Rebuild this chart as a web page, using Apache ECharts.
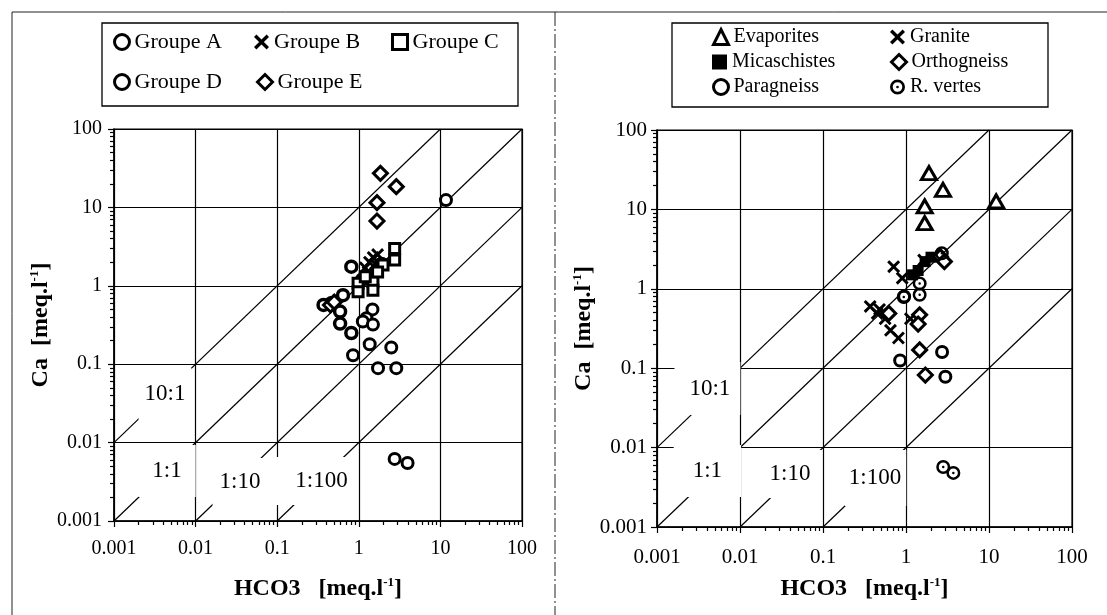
<!DOCTYPE html>
<html><head><meta charset="utf-8">
<script src="https://cdn.jsdelivr.net/npm/echarts@6/dist/echarts.min.js"></script>
<style>html,body{margin:0;padding:0;background:#fff}#c{width:1107px;height:615px}</style>
</head><body><div id="c"></div>
<script>
// ---------- data (HCO3, Ca) in meq/l ----------
const groupA = [[0.46,0.60],[0.37,0.57],[0.59,0.47],[0.59,0.33],[0.81,0.25],[0.64,0.76],[0.81,1.75],[1.9,1.9],[1.1,1.2]];
const groupB = [[1.2,1.7],[1.35,2.0],[1.5,2.3],[1.7,2.5],[1.3,1.5],[1.6,1.9]];
const groupC = [[2.75,3.0],[2.75,2.13],[1.98,1.84],[1.49,1.13],[0.98,1.08],[0.98,0.84],[1.49,0.88],[1.2,1.3],[1.7,1.5]];
const groupD = [[11.7,12.4],[0.85,0.13],[1.36,0.18],[1.47,0.50],[1.24,0.385],[1.12,0.35],[1.49,0.32],[2.5,0.163],[1.72,0.089],[2.88,0.089],[2.75,0.0062],[3.96,0.0055]];
const groupE = [[1.84,27.2],[2.88,18.4],[1.67,11.5],[1.67,6.7],[0.45,0.57],[0.5,0.62]];

const evaporites = [[1.89,28.6],[2.79,17.6],[1.68,10.9],[1.68,6.7],[12.2,12.6]];
const granite = [[0.71,1.9],[0.9,1.36],[0.37,0.6],[0.45,0.49],[0.56,0.42],[0.65,0.30],[0.81,0.24],[1.13,0.42],[1.63,2.3],[0.48,0.55]];
const micaschistes = [[1.4,1.7],[1.7,2.2],[2.0,2.5],[1.2,1.5]];
const orthogneiss = [[2.59,2.54],[2.9,2.2],[0.62,0.49],[1.46,0.47],[1.4,0.36],[1.46,0.17],[1.71,0.082]];
const paragneiss = [[0.85,0.125],[2.72,0.16],[2.98,0.078],[0.95,0.8]];
const rVertes = [[1.46,1.17],[1.46,0.84],[0.94,0.79],[2.81,0.0057],[3.72,0.0048],[2.7,2.8]];

// ratio lines Ca/HCO3 and their labels
const ratios = [10, 1, 0.1, 0.01];
const ratioLabels = ['10:1', '1:1', '1:10', '1:100'];
const leftRatioLabelAt = [[0.00422,0.0417],[0.00446,0.00434],[0.035,0.00314],[0.2594,0.00324]];
const rightRatioLabelAt = [[0.00405,0.0554],[0.00405,0.00507],[0.0454,0.00465],[0.4297,0.00414]];

// axis ticks
const decadeTicks = [0.001, 0.01, 0.1, 1, 10, 100];
const minorMultipliers = [2,3,4,5,6,7,8,9];

// ---------- build ----------
const AXMIN = decadeTicks[0], AXMAX = decadeTicks[decadeTicks.length-1];
const minorTicks = [];
decadeTicks.slice(0,-1).forEach(d => minorMultipliers.forEach(m => minorTicks.push(+(d*m).toPrecision(3))));

const SERIF = '"Liberation Serif","DejaVu Serif",serif';
const X_PATH = 'path://M0,1.6L1.6,0L5,3.4L8.4,0L10,1.6L6.6,5L10,8.4L8.4,10L5,6.6L1.6,10L0,8.4L3.4,5Z';
const DOT_RING = 'path://M10,0A10,10,0,1,1,10,20A10,10,0,1,1,10,0ZM10,3.6A6.4,6.4,0,1,0,10,16.4A6.4,6.4,0,1,0,10,3.6ZM10,8.2A1.8,1.8,0,1,1,10,11.8A1.8,1.8,0,1,1,10,8.2Z';

const fmt = v => String(+(+v).toPrecision(3));
const nameRich = {
  b:{fontFamily:SERIF, fontWeight:'bold', fontSize:24, color:'#000', lineHeight:26},
  s:{fontFamily:SERIF, fontWeight:'bold', fontSize:13, color:'#000', verticalAlign:'top', lineHeight:26}
};

function mainAxis(grid, labelMargin, nameGap, fontSize, name){
  return {
    type:'log', logBase:10, gridIndex:grid, min:AXMIN, max:AXMAX,
    axisLine:{show:true, lineStyle:{color:'#000', width:1.5}},
    axisTick:{show:true, inside:false, length:6, lineStyle:{color:'#000', width:1.2}},
    axisLabel:{margin:labelMargin, formatter:fmt, fontFamily:SERIF, fontSize:fontSize, color:'#000'},
    splitLine:{show:true, lineStyle:{color:'#000', width:1.2}},
    name:name, nameLocation:'middle', nameGap:nameGap,
    nameTextStyle:{rich:nameRich}
  };
}
function minorAxis(grid, position){
  return {
    type:'log', logBase:10, gridIndex:grid, min:AXMIN, max:AXMAX, position:position,
    axisLine:{show:false}, axisLabel:{show:false}, splitLine:{show:false},
    axisTick:{show:true, length:4, customValues:minorTicks, lineStyle:{color:'#000', width:1.2}}
  };
}
const X_NAME = '{b|HCO3   [meq.l}{s|-1}{b|]}';
const Y_NAME = '{b|Ca  [meq.l}{s|-1}{b|]}';

function ratioLineSeries(gi){
  return ratios.map(r => {
    const x0 = Math.max(AXMIN, AXMIN / r), x1 = Math.min(AXMAX, AXMAX / r);
    return {
      type:'line', xAxisIndex:gi, yAxisIndex:gi, silent:true, symbol:'none', z:2,
      lineStyle:{color:'#000', width:1.2, opacity:1}, data:[[x0, x0*r],[x1, x1*r]]
    };
  });
}
function ratioLabelSeries(gi, positions, paddings){
  return {
    type:'scatter', xAxisIndex:gi, yAxisIndex:gi, silent:true, z:4, symbolSize:1,
    itemStyle:{color:'rgba(0,0,0,0)', opacity:1},
    data: positions.map((p,i) => ({
      value:p,
      label:{show:true, position:'inside', formatter:ratioLabels[i], fontFamily:SERIF, fontSize:23,
        color:'#000', lineHeight:24, backgroundColor:'#fff', padding:paddings[i], opacity:1}
    }))
  };
}

function sc(name, gi, data, symbol, size, style){
  return {name, type:'scatter', xAxisIndex:gi, yAxisIndex:gi, z:5, symbol, symbolSize:size, data,
    itemStyle:Object.assign({opacity:1}, style)};
}
const ring = w => ({color:'#fff', borderColor:'#000', borderWidth:w});
const solid = {color:'#000', borderWidth:0};

const series = [
  ...ratioLineSeries(0), ...ratioLineSeries(1),
  ratioLabelSeries(0, leftRatioLabelAt, [[12,6,16,6],[14,14,14,14],[12,7,12,7],[8,1,16,22]]),
  ratioLabelSeries(1, rightRatioLabelAt, [[15,10,14,15],[14,19,14,19],[10,11,14,2],[18,5,14,4]]),
  sc('Groupe A',0,groupA,'circle',11,ring(3.5)),
  sc('Groupe B',0,groupB,X_PATH,13,solid),
  sc('Groupe C',0,groupC,'rect',10,ring(3)),
  sc('Groupe D',0,groupD,'circle',11,ring(3)),
  sc('Groupe E',0,groupE,'diamond',14,ring(3)),
  sc('Evaporites',1,evaporites,'triangle',[15,13],ring(3)),
  sc('Granite',1,granite,X_PATH,13,solid),
  sc('Micaschistes',1,micaschistes,'rect',11,solid),
  sc('Orthogneiss',1,orthogneiss,'diamond',14,ring(3)),
  sc('Paragneiss',1,paragneiss,'circle',11,ring(3)),
  sc('R. vertes',1,rVertes,DOT_RING,14,solid)
];

const solidNames = ['Groupe B','Granite','Micaschistes','R. vertes'];
function lg(name, left, top, fs){
  const isSolid = solidNames.indexOf(name) >= 0;
  return {data:[name], left, top, orient:'horizontal', padding:0, itemWidth:15, itemHeight:15,
    selectedMode:false,
    itemStyle: isSolid ? {borderWidth:0, opacity:1} : {borderWidth:3, borderColor:'#000', color:'#fff', opacity:1},
    textStyle:{fontFamily:SERIF, fontSize:fs, color:'#000'}};
}
const legends = [
  lg('Groupe A',113,31,22), lg('Groupe B',254,31,22), lg('Groupe C',391,31,22),
  lg('Groupe D',113,71,22), lg('Groupe E',256,71,22),
  lg('Evaporites',712,27,20), lg('Granite',890,27,20),
  lg('Micaschistes',712,52,20), lg('Orthogneiss',890,52,20),
  lg('Paragneiss',712,77,20), lg('R. vertes',890,77,20)
];

const chart = echarts.init(document.getElementById('c'), null, {renderer:'canvas'});
chart.setOption({
  backgroundColor:'#fff',
  animation:false,
  grid:[
    {left:114, top:129, width:408, height:392, show:true, borderColor:'#000', borderWidth:1.2},
    {left:657, top:130, width:415, height:397, show:true, borderColor:'#000', borderWidth:1.2}
  ],
  xAxis:[mainAxis(0,18,55,20,X_NAME), mainAxis(1,20,49,21,X_NAME), minorAxis(0,'bottom'), minorAxis(1,'bottom')],
  yAxis:[mainAxis(0,12,54,20,Y_NAME), mainAxis(1,10,51,21,Y_NAME), minorAxis(0,'left'), minorAxis(1,'left')],
  legend:legends,
  series,
  graphic:[
    {type:'line', shape:{x1:12,y1:12,x2:1107,y2:12}, style:{stroke:'#222', lineWidth:1}},
    {type:'line', shape:{x1:12,y1:12,x2:12,y2:615}, style:{stroke:'#222', lineWidth:1}},
    {type:'line', shape:{x1:555,y1:12,x2:555,y2:615}, style:{stroke:'#222', lineWidth:1, lineDash:[14,3,2,3]}},
    {type:'rect', shape:{x:102,y:23,width:416,height:83}, style:{fill:'none', stroke:'#000', lineWidth:1.3}},
    {type:'rect', shape:{x:672,y:23,width:376,height:84}, style:{fill:'none', stroke:'#000', lineWidth:1.3}}
  ]
});
</script></body></html>
